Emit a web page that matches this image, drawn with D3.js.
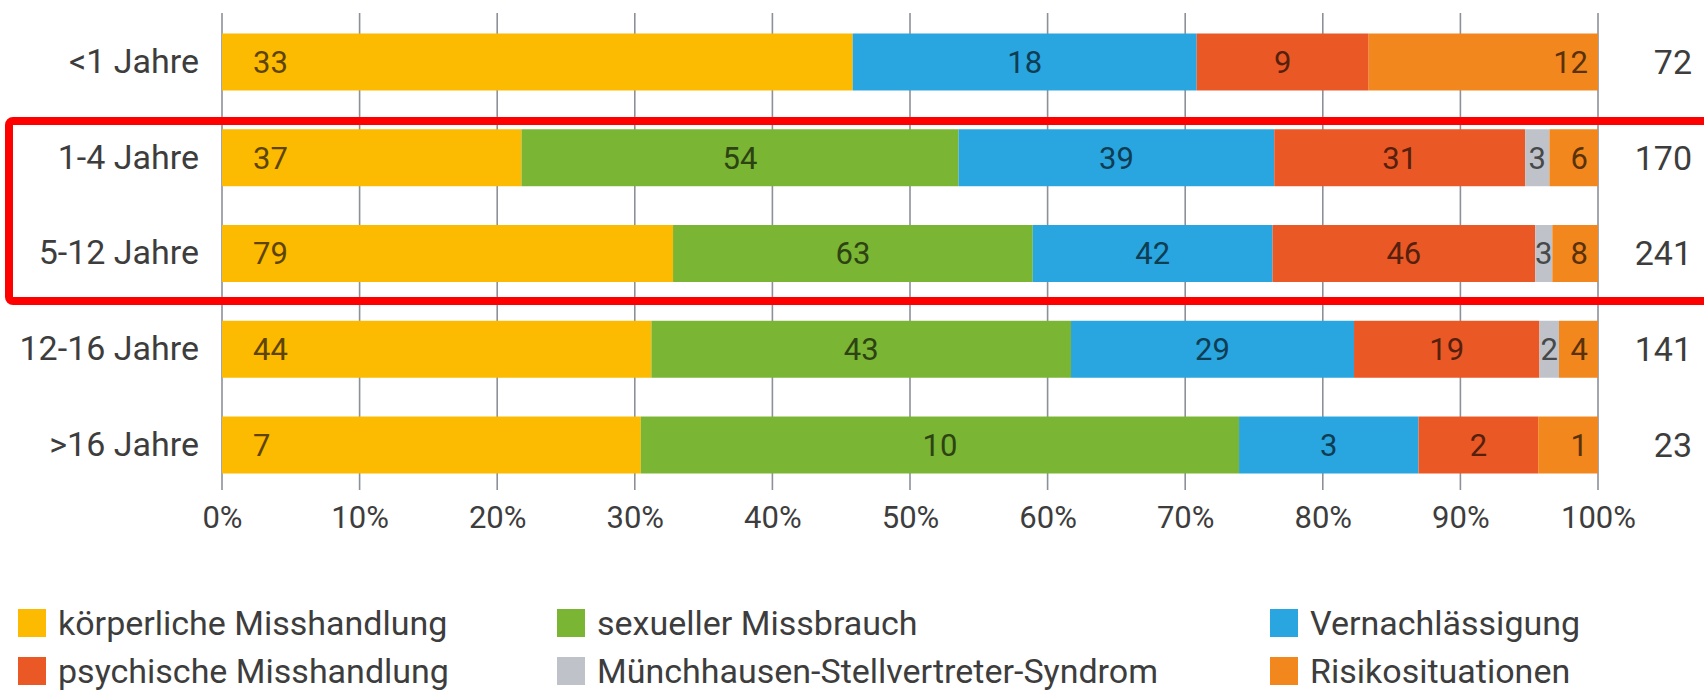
<!DOCTYPE html>
<html>
<head>
<meta charset="utf-8">
<script src="https://cdn.jsdelivr.net/npm/d3@7"></script>
<style>
  html, body { margin: 0; padding: 0; background: #fff; }
  svg { display: block; font-family: Roboto, "Noto Sans", sans-serif; }
</style>
</head>
<body>
<svg id="chart" width="1704" height="693"></svg>
<script>
// ---- data ----
const categories = ["<1 Jahre", "1-4 Jahre", "5-12 Jahre", "12-16 Jahre", ">16 Jahre"];
const seriesNames = ["körperliche Misshandlung", "sexueller Missbrauch", "Vernachlässigung",
                     "psychische Misshandlung", "Münchhausen-Stellvertreter-Syndrom", "Risikosituationen"];
const koerperlich = [33, 37, 79, 44, 7];
const sexuell     = [0, 54, 63, 43, 10];
const vernach     = [18, 39, 42, 29, 3];
const psychisch   = [9, 31, 46, 19, 2];
const muench      = [0, 3, 3, 2, 0];
const risiko      = [12, 6, 8, 4, 1];
const tickValues  = [0, 0.1, 0.2, 0.3, 0.4, 0.5, 0.6, 0.7, 0.8, 0.9, 1];
const tickLabels  = ["0%", "10%", "20%", "30%", "40%", "50%", "60%", "70%", "80%", "90%", "100%"];
const colors = ["#fcba00", "#7ab533", "#29a5e0", "#ea5825", "#bfc3c9", "#f2871e"];

const seriesValues = [koerperlich, sexuell, vernach, psychisch, muench, risiko];
const rows = categories.map((c, i) => {
  const r = { cat: c };
  seriesNames.forEach((s, j) => r[s] = seriesValues[j][i]);
  r.total = d3.sum(seriesValues, v => v[i]);
  return r;
});

const svg = d3.select("#chart");
const x = d3.scaleLinear().domain([0, 1]).range([222, 1598]);
const y = d3.scaleBand().domain(categories).range([33.5, 473.5]).paddingInner(0.405).paddingOuter(0);

// gridlines
svg.append("g").selectAll("line").data(tickValues).join("line")
  .attr("x1", d => x(d)).attr("x2", d => x(d))
  .attr("y1", 13).attr("y2", 490)
  .attr("stroke", "#8c9099").attr("stroke-width", 1.6);

// stacked (percent)
const stack = d3.stack().keys(seriesNames)
  .value((d, k) => d[k] / d.total);
const stacked = stack(rows);

const layers = svg.append("g").selectAll("g").data(stacked).join("g")
  .attr("fill", (d, i) => colors[i]);
layers.selectAll("rect").data(d => d).join("rect")
  .attr("x", d => x(d[0]))
  .attr("width", d => x(d[1]) - x(d[0]))
  .attr("y", d => y(d.data.cat))
  .attr("height", y.bandwidth());

// value labels
const labG = svg.append("g").attr("font-size", 31);
stacked.forEach((layer, si) => {
  const dark = d3.color(colors[si]).darker(2.8).formatHex();
  layer.forEach(d => {
    const v = d.data[layer.key];
    if (!v) return;
    let tx, anchor;
    if (si === 0) { tx = x(d[0]) + 31; anchor = "start"; }
    else if (si === seriesNames.length - 1) { tx = x(d[1]) - 10; anchor = "end"; }
    else { tx = (x(d[0]) + x(d[1])) / 2; anchor = "middle"; }
    labG.append("text")
      .attr("x", tx).attr("y", y(d.data.cat) + y.bandwidth() / 2)
      .attr("dy", "0.35em").attr("text-anchor", anchor)
      .attr("fill", dark).text(v);
  });
});

// category labels
const yAxis = d3.axisLeft(y).tickSize(0).tickPadding(0);
const yg = svg.append("g").attr("transform", "translate(199,0)").call(yAxis);
yg.select(".domain").remove();
yg.selectAll("text").attr("font-size", 34).attr("fill", "#3d3d3d").attr("font-family", "Roboto");

// totals
svg.append("g").selectAll("text").data(rows).join("text")
  .attr("x", 1692).attr("y", d => y(d.cat) + y.bandwidth() / 2)
  .attr("dy", "0.35em").attr("text-anchor", "end")
  .attr("font-size", 34).attr("fill", "#3d3d3d").text(d => d.total);

// x axis tick labels
const xAxis = d3.axisBottom(x).tickValues(tickValues).tickFormat((d, i) => tickLabels[i]).tickSize(0).tickPadding(0);
const xg = svg.append("g").attr("transform", "translate(0,505)").call(xAxis);
xg.select(".domain").remove();
xg.selectAll("text").attr("font-size", 31).attr("fill", "#3d3d3d").attr("font-family", "Roboto").attr("dy", "0.75em");

// legend
const legendX = [18, 557, 1270];
const legendY = [623, 671];
const lg = svg.append("g");
seriesNames.forEach((s, i) => {
  const col = i % 3, row = Math.floor(i / 3);
  const g = lg.append("g").attr("transform", `translate(${legendX[col]},${legendY[row]})`);
  g.append("rect").attr("x", 0).attr("y", -14).attr("width", 28).attr("height", 28).attr("fill", colors[i]);
  g.append("text").attr("x", 40).attr("y", 0).attr("dy", "0.35em")
    .attr("font-size", 34).attr("fill", "#3d3d3d").text(s);
});

// highlight box
svg.append("rect")
  .attr("x", 9).attr("y", 121).attr("width", 1760).attr("height", 180)
  .attr("rx", 4)
  .attr("fill", "none").attr("stroke", "#ff0000").attr("stroke-width", 8);
</script>
</body>
</html>
